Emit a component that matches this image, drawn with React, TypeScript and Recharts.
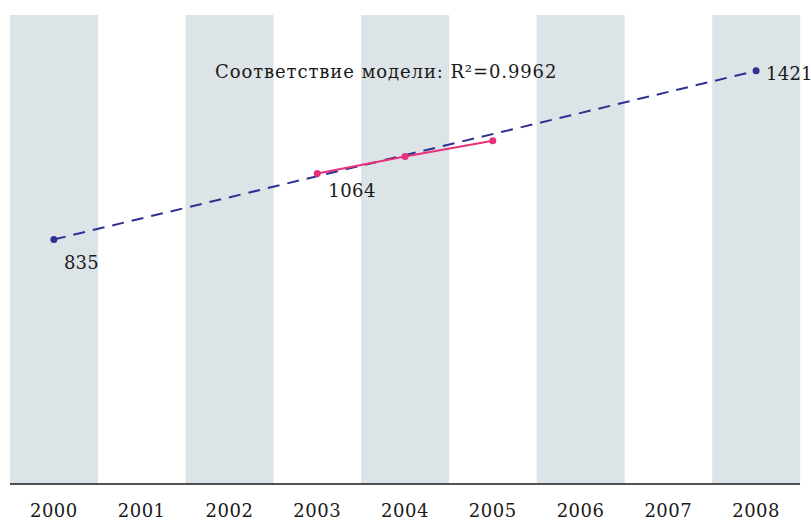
import React from 'react';
import {
    ComposedChart,
    Bar,
    Line,
    XAxis,
    YAxis,
} from 'recharts';

const years = [2000, 2001, 2002, 2003, 2004, 2005, 2006, 2007, 2008];
const trendValues = [835, null, null, null, null, null, null, null, 1421];
const observedValues = [null, null, null, 1064, 1123, 1178, null, null, null];
const shadedYears = [2000, 2002, 2004, 2006, 2008];
const yDomain: [number, number] = [-15, 1615];
const fitTitle = "Соответствие модели: R²=0.9962";

const FONT = '"DejaVu Serif", serif';
const NAVY = '#2e3192';
const PINK = '#e8317a';
const BAND = '#dde4e7';

const data = years.map((year, i) => ({
    year: String(year),
    band: shadedYears.includes(year) ? yDomain : null,
    trend: trendValues[i],
    observed: observedValues[i],
}));

// label placement per point (dx, dy from the dot)
const trendLabelPos: Record<number, [number, number]> = {
    0: [10, 30],
    8: [10, 9],
};

const TrendLabel = (props: any) => {
    const { x, y, value, index } = props;
    if (value == null || !trendLabelPos[index]) return null;
    const [dx, dy] = trendLabelPos[index];
    return (
        <text x={x + dx} y={y + dy} fontFamily={FONT} fontSize={18} letterSpacing={0.2} fill="#1a1a1a" textAnchor="start">
            {value}
        </text>
    );
};

const ObservedLabel = (props: any) => {
    const { x, y, value, index } = props;
    if (value == null || index !== 3) return null;
    return (
        <text x={x + 11} y={y + 23} fontFamily={FONT} fontSize={18} letterSpacing={0.5} fill="#1a1a1a" textAnchor="start">
            {value}
        </text>
    );
};

export default function App() {
    return (
        <div style={{ position: 'relative', width: 811, height: 521, background: '#fff' }}>
            <style>{`body { margin: 0; }`}</style>
            <ComposedChart
                width={811}
                height={521}
                data={data}
                margin={{ top: 15, right: 11, bottom: 0, left: 10 }}
                barCategoryGap={0}
                barGap={0}
            >
                <XAxis
                    dataKey="year"
                    type="category"
                    height={37}
                    tickLine={false}
                    axisLine={{ stroke: '#1a1a1a', strokeWidth: 1.5 }}
                    tickMargin={14}
                    tick={{ fontFamily: FONT, fontSize: 18, fill: '#1a1a1a', letterSpacing: 0.5 }}
                    interval={0}
                />
                <YAxis hide domain={yDomain} allowDataOverflow />
                <Bar dataKey="band" fill={BAND} isAnimationActive={false} />
                <Line
                    dataKey="trend"
                    stroke={NAVY}
                    strokeWidth={2}
                    strokeDasharray="12 8"
                    connectNulls
                    dot={{ r: 3.5, fill: NAVY, stroke: NAVY, strokeWidth: 0 }}
                    activeDot={false}
                    isAnimationActive={false}
                    label={<TrendLabel />}
                />
                <Line
                    dataKey="observed"
                    stroke={PINK}
                    strokeWidth={2}
                    dot={{ r: 3.5, fill: PINK, stroke: PINK, strokeWidth: 0 }}
                    activeDot={false}
                    isAnimationActive={false}
                    label={<ObservedLabel />}
                />
            </ComposedChart>
            <div
                style={{
                    position: 'absolute',
                    left: 215,
                    top: 61,
                    fontFamily: FONT,
                    fontSize: 18,
                    letterSpacing: 0.9,
                    color: '#1a1a1a',
                    whiteSpace: 'nowrap',
                    lineHeight: '22px',
                }}
            >
                {fitTitle}
            </div>
        </div>
    );
}
